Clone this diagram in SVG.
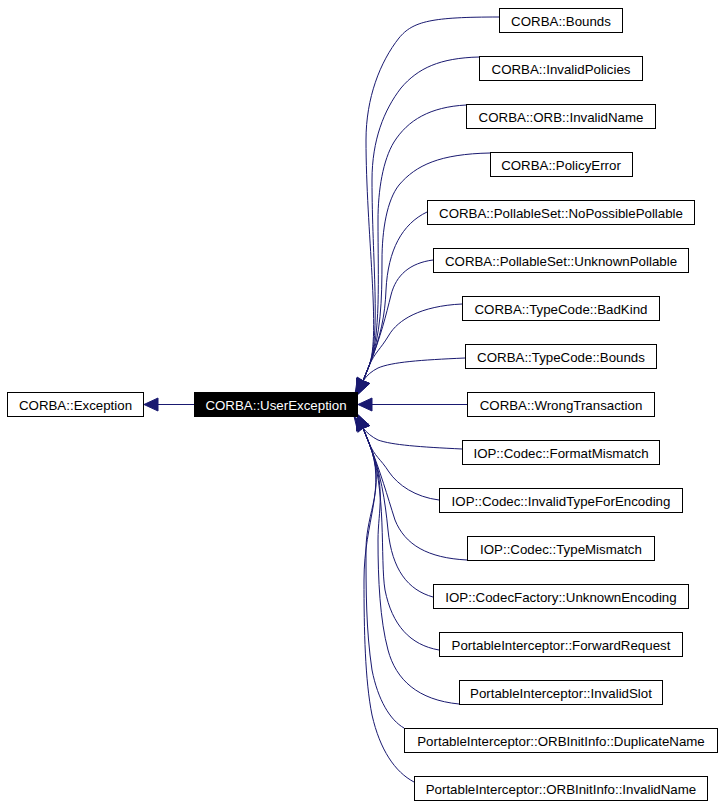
<svg xmlns="http://www.w3.org/2000/svg" width="724" height="807" viewBox="0 0 724 807">
<style>
.bg{fill:#ffffff}
.box{fill:#ffffff;stroke:#000000;stroke-width:1}
.boxd{fill:#000000;stroke:#000000;stroke-width:1}
.t{font-family:"Liberation Sans",Arial,sans-serif;font-size:13.3px;fill:#000000;text-anchor:middle}
.tw{fill:#ffffff}
.e{fill:none;stroke:#191970;stroke-width:1;marker-end:url(#ah)}
</style>
<defs>
<marker id="ah" markerUnits="userSpaceOnUse" viewBox="0 -7 14 14" markerWidth="14" markerHeight="14" refX="0" refY="0" orient="auto" overflow="visible">
<path d="M0,-6.5 L14,0 L0,6.5 z" fill="#191970" stroke="#191970" stroke-width="1"/>
</marker>
</defs>
<rect class="bg" x="0" y="0" width="724" height="807"/>
<g id="connectors">
<path class="e" d="M194,404.5 L158,404.5"/>
<path class="e" d="M467,404.5 L372,404.5"/>
<path class="e" d="M499,17 C432,17 413,21 399,38 C380,62 366,98 366,140 C366,230 381,336 369,366 L363,381"/>
<path class="e" d="M479,57 C440,58 418,68 401,88 C384,110 372,140 372,180 C372,260 381,336 369,366 L363,381"/>
<path class="e" d="M466,105 C430,107 408,120 394,142 C383,160 378,190 378,220 C378,280 381,336 369,366 L363,381"/>
<path class="e" d="M490,153 C440,154 416,165 399,185 C387,200 382,230 382,260 C382,300 381,336 369,366 L363,381"/>
<path class="e" d="M427,212 C402,224 388,250 386,290 C385,315 381,336 369,366 L363,381"/>
<path class="e" d="M433,260 C410,263 396,275 391,295 C386,315 381,336 369,366 L363,381"/>
<path class="e" d="M462,304 C420,306 398,320 389,335 C380,350 375,352 369,366 L363,381"/>
<path class="e" d="M465,358 C420,360 392,362 378,368 C372,371 367,375 363,381"/>
<path class="e" d="M462,449 C420,447 392,445 378,440 C372,437 367,433 363,428"/>
<path class="e" d="M439,500 C415,497 398,485 389,472 C380,458 375,457 369,443 L363,428"/>
<path class="e" d="M467,560 C428,558 405,545 395,520 C387,495 381,473 369,443 L363,428"/>
<path class="e" d="M433,597 C408,590 392,570 388,530 C385,500 381,473 369,443 L363,428"/>
<path class="e" d="M439,650 C410,645 392,625 385,590 C380,560 387,488 369,443 L363,428"/>
<path class="e" d="M459,704 C418,700 396,680 388,650 C380,620 378,580 378,540 C378,510 387,488 369,443 L363,428"/>
<path class="e" d="M404,728 C390,720 378,700 372,670 C366,630 366,590 366,550 C366,510 387,488 369,443 L363,428"/>
<path class="e" d="M414,782 C395,772 380,750 372,715 C365,680 364,630 364,580 C364,520 387,488 369,443 L363,428"/>
</g>
<g id="n_exception"><rect class="box" x="7.5" y="392.5" width="136" height="24"/><text class="t" x="75.5" y="409.5">CORBA::Exception</text></g>
<g id="n_userexception"><rect class="boxd" x="194.5" y="392.5" width="163" height="24"/><text class="t tw" x="276" y="409.5">CORBA::UserException</text></g>
<g id="n_bounds"><rect class="box" x="499.5" y="8.5" width="123" height="24"/><text class="t" x="561" y="25.5">CORBA::Bounds</text></g>
<g id="n_invalidpolicies"><rect class="box" x="479.5" y="56.5" width="163" height="24"/><text class="t" x="561" y="73.5">CORBA::InvalidPolicies</text></g>
<g id="n_orb_invalidname"><rect class="box" x="466.5" y="104.5" width="189" height="24"/><text class="t" x="561" y="121.5">CORBA::ORB::InvalidName</text></g>
<g id="n_policyerror"><rect class="box" x="490.5" y="152.5" width="142" height="24"/><text class="t" x="561" y="169.5">CORBA::PolicyError</text></g>
<g id="n_nopossiblepollable"><rect class="box" x="427.5" y="200.5" width="267" height="24"/><text class="t" x="561" y="217.5">CORBA::PollableSet::NoPossiblePollable</text></g>
<g id="n_unknownpollable"><rect class="box" x="433.5" y="248.5" width="255" height="24"/><text class="t" x="561" y="265.5">CORBA::PollableSet::UnknownPollable</text></g>
<g id="n_badkind"><rect class="box" x="462.5" y="296.5" width="197" height="24"/><text class="t" x="561" y="313.5">CORBA::TypeCode::BadKind</text></g>
<g id="n_tc_bounds"><rect class="box" x="465.5" y="344.5" width="191" height="24"/><text class="t" x="561" y="361.5">CORBA::TypeCode::Bounds</text></g>
<g id="n_wrongtransaction"><rect class="box" x="467.5" y="392.5" width="187" height="24"/><text class="t" x="561" y="409.5">CORBA::WrongTransaction</text></g>
<g id="n_formatmismatch"><rect class="box" x="462.5" y="440.5" width="197" height="24"/><text class="t" x="561" y="457.5">IOP::Codec::FormatMismatch</text></g>
<g id="n_invalidtypeforencoding"><rect class="box" x="439.5" y="488.5" width="243" height="24"/><text class="t" x="561" y="505.5">IOP::Codec::InvalidTypeForEncoding</text></g>
<g id="n_typemismatch"><rect class="box" x="467.5" y="536.5" width="187" height="24"/><text class="t" x="561" y="553.5">IOP::Codec::TypeMismatch</text></g>
<g id="n_unknownencoding"><rect class="box" x="433.5" y="584.5" width="255" height="24"/><text class="t" x="561" y="601.5">IOP::CodecFactory::UnknownEncoding</text></g>
<g id="n_forwardrequest"><rect class="box" x="439.5" y="632.5" width="243" height="24"/><text class="t" x="561" y="649.5">PortableInterceptor::ForwardRequest</text></g>
<g id="n_invalidslot"><rect class="box" x="459.5" y="680.5" width="203" height="24"/><text class="t" x="561" y="697.5">PortableInterceptor::InvalidSlot</text></g>
<g id="n_duplicatename"><rect class="box" x="404.5" y="728.5" width="313" height="24"/><text class="t" x="561" y="745.5">PortableInterceptor::ORBInitInfo::DuplicateName</text></g>
<g id="n_invalidname"><rect class="box" x="414.5" y="776.5" width="293" height="24"/><text class="t" x="561" y="793.5">PortableInterceptor::ORBInitInfo::InvalidName</text></g>
</svg>
